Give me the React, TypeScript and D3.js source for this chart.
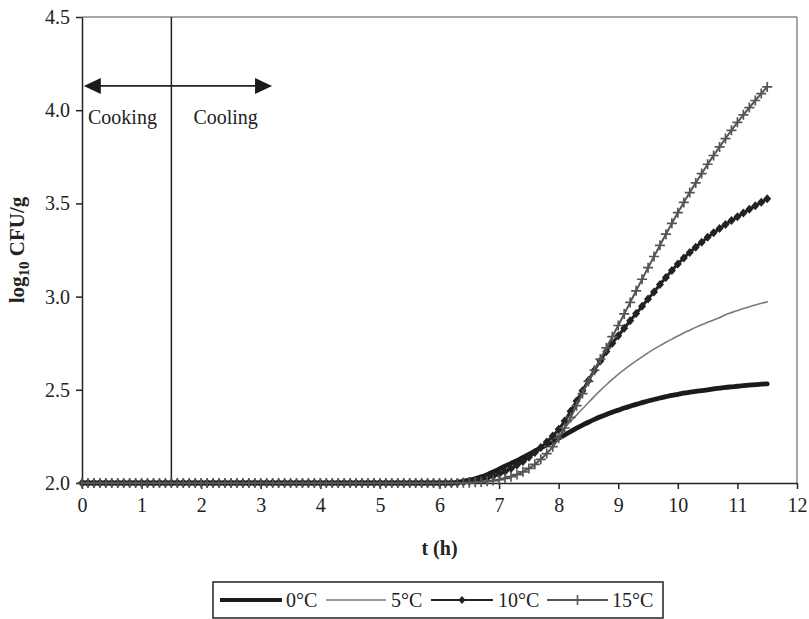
import { useEffect, useRef } from "react"
import * as d3 from "d3"

// sampling times (h)
const times = [
  0, 0.1, 0.2, 0.3, 0.4, 0.5, 0.6, 0.7, 0.8, 0.9,
  1, 1.1, 1.2, 1.3, 1.4, 1.5, 1.6, 1.7, 1.8, 1.9,
  2, 2.1, 2.2, 2.3, 2.4, 2.5, 2.6, 2.7, 2.8, 2.9,
  3, 3.1, 3.2, 3.3, 3.4, 3.5, 3.6, 3.7, 3.8, 3.9,
  4, 4.1, 4.2, 4.3, 4.4, 4.5, 4.6, 4.7, 4.8, 4.9,
  5, 5.1, 5.2, 5.3, 5.4, 5.5, 5.6, 5.7, 5.8, 5.9,
  6, 6.1, 6.2, 6.3, 6.4, 6.5, 6.6, 6.7, 6.8, 6.9,
  7, 7.1, 7.2, 7.3, 7.4, 7.5, 7.6, 7.7, 7.8, 7.9,
  8, 8.1, 8.2, 8.3, 8.4, 8.5, 8.6, 8.7, 8.8, 8.9,
  9, 9.1, 9.2, 9.3, 9.4, 9.5, 9.6, 9.7, 9.8, 9.9,
  10, 10.1, 10.2, 10.3, 10.4, 10.5, 10.6, 10.7, 10.8, 10.9,
  11, 11.1, 11.2, 11.3, 11.4, 11.5,
]

// t = 0 .. 6.2 h, every curve sits on 2.0
const lag = [
  2, 2, 2, 2, 2, 2, 2, 2, 2, 2,
  2, 2, 2, 2, 2, 2, 2, 2, 2, 2,
  2, 2, 2, 2, 2, 2, 2, 2, 2, 2,
  2, 2, 2, 2, 2, 2, 2, 2, 2, 2,
  2, 2, 2, 2, 2, 2, 2, 2, 2, 2,
  2, 2, 2, 2, 2, 2, 2, 2, 2, 2,
  2, 2, 2,
]

// t = 6.3 .. 11.5 h
const growth0 = [
  2.004, 2.009, 2.015, 2.023, 2.033, 2.045, 2.059,
  2.074, 2.09, 2.105, 2.12, 2.137, 2.154, 2.171, 2.188, 2.205, 2.222,
  2.24, 2.258, 2.276, 2.294, 2.31, 2.326, 2.341, 2.355, 2.368, 2.38,
  2.391, 2.402, 2.412, 2.422, 2.431, 2.44, 2.448, 2.456, 2.463, 2.47,
  2.476, 2.482, 2.487, 2.492, 2.496, 2.5, 2.505, 2.509, 2.513, 2.516,
  2.519, 2.522, 2.525, 2.528, 2.53, 2.532,
]
const growth5 = [
  2.003, 2.007, 2.012, 2.018, 2.025, 2.034, 2.044,
  2.055, 2.067, 2.081, 2.097, 2.115, 2.135, 2.157, 2.181, 2.207, 2.235,
  2.265, 2.297, 2.33, 2.364, 2.398, 2.432, 2.465, 2.497, 2.527, 2.556,
  2.583, 2.608, 2.632, 2.655, 2.677, 2.698, 2.718, 2.737, 2.755, 2.772,
  2.789, 2.805, 2.82, 2.835, 2.849, 2.862, 2.875, 2.887, 2.903, 2.914,
  2.925, 2.936, 2.946, 2.955, 2.964, 2.972,
]
const growth10 = [
  2.002, 2.005, 2.009, 2.014, 2.02, 2.028, 2.037,
  2.048, 2.062, 2.078, 2.096, 2.116, 2.138, 2.163, 2.19, 2.22, 2.252,
  2.288, 2.332, 2.385, 2.44, 2.495, 2.55, 2.605, 2.655, 2.705, 2.75,
  2.79, 2.83, 2.87, 2.909, 2.948, 2.987, 3.025, 3.065, 3.103, 3.14,
  3.175, 3.207, 3.237, 3.265, 3.292, 3.318, 3.342, 3.365, 3.387, 3.408,
  3.428, 3.448, 3.468, 3.487, 3.506, 3.525,
]
const growth15 = [
  2.0, 2.001, 2.002, 2.004, 2.006, 2.009, 2.013,
  2.018, 2.025, 2.034, 2.045, 2.06, 2.078, 2.1, 2.127, 2.158, 2.195,
  2.24, 2.295, 2.352, 2.415, 2.48, 2.545, 2.605, 2.665, 2.725, 2.785,
  2.845, 2.907, 2.969, 3.031, 3.093, 3.155, 3.215, 3.275, 3.335, 3.393,
  3.45, 3.505, 3.558, 3.61, 3.66, 3.71, 3.757, 3.803, 3.848, 3.892,
  3.935, 3.975, 4.014, 4.052, 4.089, 4.125,
]

const seriesNames = ["0°C", "5°C", "10°C", "15°C"]
const xTicks = [0, 1, 2, 3, 4, 5, 6, 7, 8, 9, 10, 11, 12]
const yTicks = [2.0, 2.5, 3.0, 3.5, 4.0, 4.5]

// annotation: end of cooking and the arrow
const phaseSwitch = 1.5
const arrowLevel = 4.13
const arrowFrom = 0.03
const arrowTo = 3.19

const FONT = "'Liberation Serif', 'Times New Roman', serif"

const styles = [
  { color: "#1b1b1b", width: 4.8, marker: "none" },
  { color: "#7a7a7a", width: 1.6, marker: "none" },
  { color: "#222222", width: 3, marker: "diamond" },
  { color: "#555555", width: 2, marker: "plus" },
]

export default function App() {
  const ref = useRef(null)

  useEffect(() => {
    const svg = d3.select(ref.current)
    svg.selectAll("*").remove()

    const margin = { top: 17, right: 12, bottom: 136, left: 82 }
    const width = 809
    const height = 619
    const innerW = width - margin.left - margin.right
    const innerH = height - margin.top - margin.bottom

    const x = d3.scaleLinear().domain([0, 12]).range([0, innerW])
    const y = d3.scaleLinear().domain([2, 4.5]).range([innerH, 0])

    const g = svg.append("g").attr("transform", `translate(${margin.left},${margin.top})`)

    // frame (top / right in grey)
    g.append("line").attr("x1", 0).attr("x2", innerW).attr("y1", 0).attr("y2", 0)
      .attr("stroke", "#8a8a8a").attr("stroke-width", 1.5)
    g.append("line").attr("x1", innerW).attr("x2", innerW).attr("y1", 0).attr("y2", innerH)
      .attr("stroke", "#8a8a8a").attr("stroke-width", 1.5)

    const xAxis = g.append("g")
      .attr("transform", `translate(0,${innerH})`)
      .call(d3.axisBottom(x).tickValues(xTicks).tickSize(6).tickSizeOuter(0).tickPadding(9))
    const yAxis = g.append("g")
      .call(d3.axisLeft(y).tickValues(yTicks).tickSize(6).tickSizeOuter(0).tickPadding(6).tickFormat(d3.format(".1f")))

    ;[xAxis, yAxis].forEach(ax => {
      ax.select(".domain").attr("stroke", "#222").attr("stroke-width", 1.5)
      ax.selectAll(".tick line").attr("stroke", "#222").attr("stroke-width", 1.5)
      ax.selectAll(".tick text")
        .attr("fill", "#222")
        .style("font-family", FONT)
        .style("font-size", "20px")
    })

    // cooking / cooling annotation
    const sx = x(phaseSwitch)
    g.append("line").attr("x1", sx).attr("x2", sx).attr("y1", 0).attr("y2", innerH)
      .attr("stroke", "#222").attr("stroke-width", 1.5)
    const ay = y(arrowLevel)
    const ax0 = x(arrowFrom)
    const ax1 = x(arrowTo)
    g.append("line").attr("x1", ax0 + 10).attr("x2", ax1 - 10).attr("y1", ay).attr("y2", ay)
      .attr("stroke", "#222").attr("stroke-width", 1.8)
    g.append("path").attr("d", `M${ax0},${ay} L${ax0 + 17},${ay - 8} L${ax0 + 17},${ay + 8} Z`).attr("fill", "#1a1a1a")
    g.append("path").attr("d", `M${ax1},${ay} L${ax1 - 17},${ay - 8} L${ax1 - 17},${ay + 8} Z`).attr("fill", "#1a1a1a")
    g.append("text").attr("x", 6).attr("y", ay + 38)
      .style("font-family", FONT).style("font-size", "20px").attr("fill", "#222").text("Cooking")
    g.append("text").attr("x", sx + 22).attr("y", ay + 38)
      .style("font-family", FONT).style("font-size", "20px").attr("fill", "#222").text("Cooling")

    // curves
    const growths = [growth0, growth5, growth10, growth15]
    const series = growths.map((gr, i) => ({
      name: seriesNames[i],
      style: styles[i],
      points: times.map((t, j) => ({ t, v: j < lag.length ? lag[j] : gr[j - lag.length] })),
    }))

    const line = d3.line().x(d => x(d.t)).y(d => y(d.v)).curve(d3.curveMonotoneX)

    series.forEach(s => {
      g.append("path")
        .datum(s.points)
        .attr("fill", "none")
        .attr("stroke", s.style.color)
        .attr("stroke-width", s.style.width)
        .attr("stroke-linejoin", "round")
        .attr("stroke-linecap", "round")
        .attr("d", line)

      if (s.style.marker === "diamond") {
        g.append("g").selectAll("path")
          .data(s.points)
          .join("path")
          .attr("transform", d => `translate(${x(d.t)},${y(d.v)})`)
          .attr("d", "M0,-4.5 L4,0 L0,4.5 L-4,0 Z")
          .attr("fill", s.style.color)
      } else if (s.style.marker === "plus") {
        g.append("g").selectAll("path")
          .data(s.points)
          .join("path")
          .attr("transform", d => `translate(${x(d.t)},${y(d.v)})`)
          .attr("d", "M-5,0 L5,0 M0,-5 L0,5")
          .attr("stroke", s.style.color)
          .attr("stroke-width", 1.7)
          .attr("fill", "none")
      }
    })

    // axis titles
    svg.append("text")
      .attr("x", margin.left + innerW / 2)
      .attr("y", 555)
      .attr("text-anchor", "middle")
      .style("font-family", FONT).style("font-size", "20px").style("font-weight", "bold")
      .attr("fill", "#222")
      .text("t (h)")

    const yl = svg.append("text")
      .attr("transform", `translate(24,${margin.top + innerH / 2}) rotate(-90)`)
      .attr("text-anchor", "middle")
      .style("font-family", FONT).style("font-size", "21px").style("font-weight", "bold")
      .attr("fill", "#222")
    yl.append("tspan").text("log")
    yl.append("tspan").attr("dy", 5).style("font-size", "15px").text("10")
    yl.append("tspan").attr("dy", -5).text(" CFU/g")

    // legend
    const lg = svg.append("g")
    lg.append("rect").attr("x", 213).attr("y", 582).attr("width", 450).attr("height", 36)
      .attr("fill", "none").attr("stroke", "#222").attr("stroke-width", 1.5)
    const slots = [
      { x1: 220, x2: 282, tx: 286 },
      { x1: 326, x2: 386, tx: 391 },
      { x1: 431, x2: 493, tx: 498 },
      { x1: 547, x2: 608, tx: 612 },
    ]
    const ly = 600
    series.forEach((s, i) => {
      const sl = slots[i]
      lg.append("line").attr("x1", sl.x1).attr("x2", sl.x2).attr("y1", ly).attr("y2", ly)
        .attr("stroke", s.style.color)
        .attr("stroke-width", i === 0 ? 4 : i === 1 ? 1.5 : 2)
      const mx = (sl.x1 + sl.x2) / 2
      if (s.style.marker === "diamond") {
        lg.append("path").attr("transform", `translate(${mx},${ly})`)
          .attr("d", "M0,-4 L3.5,0 L0,4 L-3.5,0 Z").attr("fill", s.style.color)
      } else if (s.style.marker === "plus") {
        lg.append("path").attr("transform", `translate(${mx},${ly})`)
          .attr("d", "M0,-5 L0,5").attr("stroke", s.style.color).attr("stroke-width", 1.6)
      }
      lg.append("text").attr("x", sl.tx).attr("y", ly + 7)
        .style("font-family", FONT).style("font-size", "20px").attr("fill", "#222")
        .text(s.name)
    })
  }, [])

  return (
    <svg
      ref={ref}
      width={809}
      height={619}
      style={{ position: "absolute", left: 0, top: 0, background: "#fff" }}
    />
  )
}
